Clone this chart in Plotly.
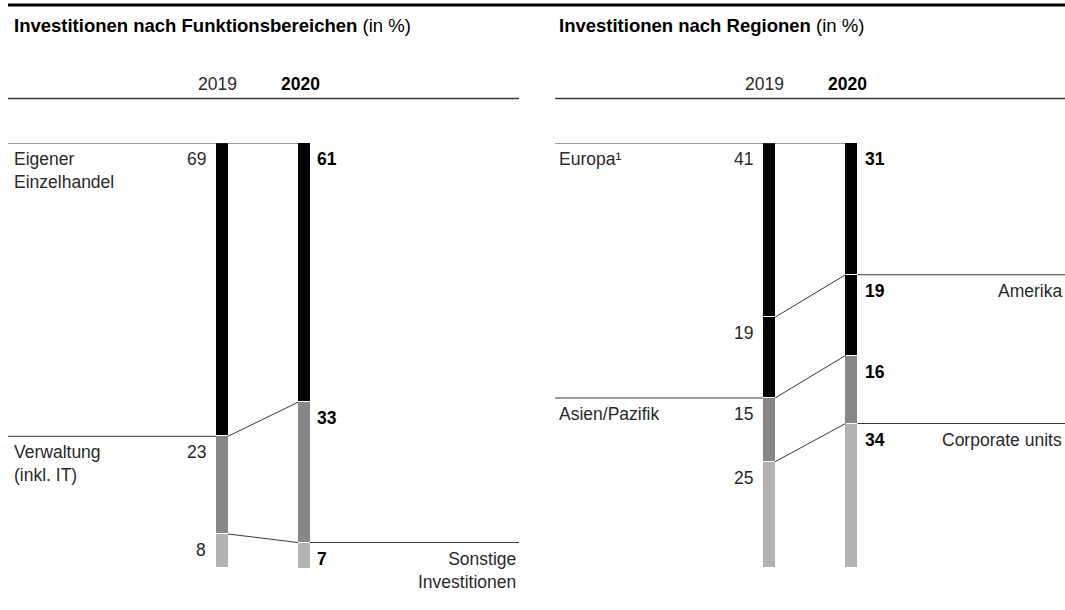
import numpy as np
import plotly.graph_objects as go

# ---------------- data ----------------
years = ["2019", "2020"]

func_categories = ["Eigener<br>Einzelhandel", "Verwaltung<br>(inkl. IT)", "Sonstige<br>Investitionen"]
func_2019 = [69, 23, 8]
func_2020 = [61, 33, 7]
func_label_side = ["left", "left", "right"]

reg_categories = ["Europa¹", "Amerika", "Asien/Pazifik", "Corporate units"]
reg_2019 = [41, 19, 15, 25]
reg_2020 = [31, 19, 16, 34]
reg_label_side = ["left", "right", "left", "right"]

titles = ["<b>Investitionen nach Funktionsbereichen</b> (in %)",
          "<b>Investitionen nach Regionen</b> (in %)"]

# ---------------- layout constants ----------------
W, H = 1065, 610
FONT = "Liberation Sans, Arial, sans-serif"
FS = 17.5
FS_TITLE = 18.5
TXT = "#2a2a2a"
LINE = "#3a3a3a"
BAR_W = 12

func_colors = ["#000000", "#878787", "#b3b3b3"]
reg_colors = ["#000000", "#000000", "#878787", "#b3b3b3"]

panels = [
    dict(cats=func_categories, v19=func_2019, v20=func_2020, side=func_label_side,
         colors=func_colors, x0=8, x1=519, xt=12, p19=222, p20=304, title=titles[0]),
    dict(cats=reg_categories, v19=reg_2019, v20=reg_2020, side=reg_label_side,
         colors=reg_colors, x0=555, x1=1065, xt=557, p19=769, p20=851.5, title=titles[1]),
]

def py(p):
    return 1 - p / H

fig = go.Figure()
annotations = []
shapes = []

for P in panels:
    v19 = np.array(P["v19"], dtype=float)
    v20 = np.array(P["v20"], dtype=float)
    s19 = np.concatenate([[0], np.cumsum(v19)[:-1]])
    s20 = np.concatenate([[0], np.cumsum(v20)[:-1]])
    p19, p20 = P["p19"], P["p20"]
    hw = BAR_W / 2

    # stacked bars
    for i, cat in enumerate(P["cats"]):
        fig.add_trace(go.Bar(
            x=[p19, p20], y=[v19[i], v20[i]], width=BAR_W + 1,
            marker=dict(color=P["colors"][i], line=dict(color="white", width=1.2)),
            showlegend=False, hoverinfo="skip"))

    # connectors between boundaries
    for i in range(1, len(v19)):
        fig.add_trace(go.Scatter(
            x=[p19 + hw, p20 - hw], y=[s19[i], s20[i]], mode="lines",
            line=dict(color=LINE, width=1), showlegend=False, hoverinfo="skip"))

    # label lines and labels
    for i, cat in enumerate(P["cats"]):
        if P["side"][i] == "left":
            xe = p20 - hw if i == 0 else p19 - hw
            fig.add_trace(go.Scatter(
                x=[P["x0"], xe], y=[s19[i], s19[i]], mode="lines",
                line=dict(color=LINE, width=1), showlegend=False, hoverinfo="skip"))
            annotations.append(dict(
                x=P["xt"], y=s19[i], xref="x", yref="y", text=cat, showarrow=False,
                xanchor="left", yanchor="top", yshift=-4, align="left",
                font=dict(family=FONT, size=FS, color=TXT)))
        else:
            fig.add_trace(go.Scatter(
                x=[p20 + hw, P["x1"]], y=[s20[i], s20[i]], mode="lines",
                line=dict(color=LINE, width=1), showlegend=False, hoverinfo="skip"))
            annotations.append(dict(
                x=P["x1"] - 1, y=s20[i], xref="x", yref="y", text=cat, showarrow=False,
                xanchor="right", yanchor="top", yshift=-4, align="right",
                font=dict(family=FONT, size=FS, color=TXT)))

    # value labels
    for i in range(len(v19)):
        annotations.append(dict(
            x=p19 - hw - 8, y=s19[i], xref="x", yref="y", text=f"{int(v19[i])}",
            showarrow=False, xanchor="right", yanchor="top", yshift=-4,
            font=dict(family=FONT, size=FS, color=TXT)))
        annotations.append(dict(
            x=p20 + hw + 5, y=s20[i], xref="x", yref="y", text=f"<b>{int(v20[i])}</b>",
            showarrow=False, xanchor="left", yanchor="top", yshift=-4,
            font=dict(family=FONT, size=FS, color="#000000")))

    # year headers
    annotations.append(dict(x=p19 - 5, y=py(84), xref="x", yref="paper", text=years[0],
                            showarrow=False, xanchor="center", yanchor="middle",
                            font=dict(family=FONT, size=FS, color=TXT)))
    annotations.append(dict(x=p20 - 4, y=py(84), xref="x", yref="paper", text=f"<b>{years[1]}</b>",
                            showarrow=False, xanchor="center", yanchor="middle",
                            font=dict(family=FONT, size=FS, color="#000000")))
    # title
    annotations.append(dict(x=P["xt"], y=py(25), xref="x", yref="paper", text=P["title"],
                            showarrow=False, xanchor="left", yanchor="middle",
                            font=dict(family=FONT, size=FS_TITLE, color="#000000")))
    # header rule
    shapes.append(dict(type="line", xref="x", yref="paper", x0=P["x0"], x1=P["x1"],
                       y0=py(98.5), y1=py(98.5), line=dict(color=LINE, width=1.3)))

# top thick rule
shapes.append(dict(type="line", xref="x", yref="paper", x0=8, x1=W,
                   y0=py(5), y1=py(5), line=dict(color="#000000", width=3)))

fig.update_layout(
    width=W, height=H, margin=dict(l=0, r=0, t=0, b=0),
    paper_bgcolor="white", plot_bgcolor="white",
    barmode="stack", bargap=0,
    xaxis=dict(range=[0, W], visible=False, fixedrange=True),
    yaxis=dict(range=[100, 0], domain=[py(568), py(143)], visible=False, fixedrange=True),
    annotations=annotations, shapes=shapes,
    font=dict(family=FONT, size=FS, color=TXT),
)

fig.write_html("out.html", config={"displayModeBar": False},
               post_script="document.body.style.margin='0';document.body.style.overflow='hidden';")
